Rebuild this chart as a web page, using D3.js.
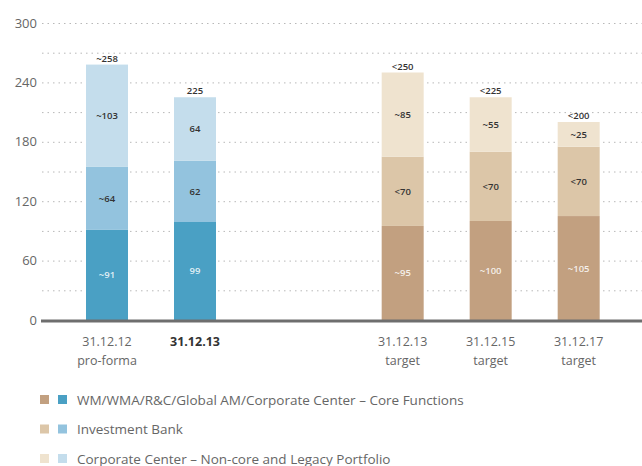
<!DOCTYPE html>
<html><head><meta charset="utf-8">
<script src="https://cdn.jsdelivr.net/npm/d3@7"></script>
<style>
body{margin:0;background:#fff;}
svg{display:block;}
text{font-family:"Open Sans","Noto Sans",sans-serif;}
</style></head>
<body>
<svg id="chart" width="642" height="466"></svg>
<script>
// ---- data ----
const categories = ["31.12.12|pro-forma", "31.12.13", "31.12.13|target", "31.12.15|target", "31.12.17|target"];
const boldCategory = [false, true, false, false, false];
const isTarget = [false, false, true, true, true];
const coreValues = [91, 99, 95, 100, 105];
const ibValues = [64, 62, 70, 70, 70];
const legacyValues = [103, 64, 85, 55, 25];
const coreLabels = ["~91", "99", "~95", "~100", "~105"];
const ibLabels = ["~64", "62", "<70", "<70", "<70"];
const legacyLabels = ["~103", "64", "~85", "~55", "~25"];
const totalLabels = ["~258", "225", "<250", "<225", "<200"];
const yTicks = [0, 60, 120, 180, 240, 300];
const gridValues = [30, 60, 90, 120, 150, 180, 210, 240, 270, 300];
const legendItems = [
  "WM/WMA/R&C/Global AM/Corporate Center \u2013 Core Functions",
  "Investment Bank",
  "Corporate Center \u2013 Non-core and Legacy Portfolio"
];

// ---- styles ----
const blue = ["#4aa0c4", "#93c3de", "#c4ddec"];
const brown = ["#c2a080", "#dcc6a8", "#efe3cf"];

const svg = d3.select("#chart");
const y = d3.scaleLinear().domain([0, 300]).range([320, 23]);
// slot positions: left group at 0,1; right group after a gap
const slot = i => i < 2 ? i : i + 1.36;
const x = d3.scaleLinear().domain([0, 1]).range([107, 195]);
const barW = 42;

// gridlines (dotted)
svg.append("g").selectAll("line").data(gridValues).join("line")
  .attr("x1", 42).attr("x2", 642)
  .attr("y1", d => y(d) + 0.5).attr("y2", d => y(d) + 0.5)
  .attr("stroke", "#b8b8b8").attr("stroke-width", 1)
  .attr("stroke-dasharray", "1.5,4");

// y axis labels
const yAxis = d3.axisLeft(y).tickValues(yTicks).tickSize(0).tickPadding(0);
const yg = svg.append("g").attr("transform", "translate(37,0)").call(yAxis);
yg.select(".domain").remove();
yg.selectAll("text").attr("font-size", 13).attr("fill", "#666")
  .attr("font-family", '"Open Sans","Noto Sans",sans-serif');

// stacked bars
const rows = categories.map((c, i) => ({
  i, core: coreValues[i], ib: ibValues[i], legacy: legacyValues[i]
}));
const stack = d3.stack().keys(["core", "ib", "legacy"])(rows);
const labelSets = [coreLabels, ibLabels, legacyLabels];

stack.forEach((layer, k) => {
  const g = svg.append("g");
  g.selectAll("rect").data(layer).join("rect")
    .attr("x", d => x(slot(d.data.i)) - barW / 2)
    .attr("width", barW)
    .attr("y", d => y(d[1]))
    .attr("height", d => y(d[0]) - y(d[1]))
    .attr("fill", d => (isTarget[d.data.i] ? brown : blue)[k]);
  g.selectAll("text").data(layer).join("text")
    .attr("x", d => x(slot(d.data.i)))
    .attr("y", d => (y(d[0]) + y(d[1])) / 2 + 3.5)
    .attr("text-anchor", "middle")
    .attr("font-size", 9.5).attr("font-weight", 600)
    .attr("fill", k === 0 ? "#fff" : "#333")
    .attr("fill-opacity", k === 0 ? 0.85 : 1)
    .text(d => labelSets[k][d.data.i]);
});

// totals
svg.append("g").selectAll("text").data(rows).join("text")
  .attr("x", d => x(slot(d.i)))
  .attr("y", d => y(d.core + d.ib + d.legacy) - 3)
  .attr("text-anchor", "middle")
  .attr("font-size", 9.5).attr("font-weight", 600).attr("fill", "#333")
  .text(d => totalLabels[d.i]);

// baseline
svg.append("line").attr("x1", 41).attr("x2", 642)
  .attr("y1", y(0) + 1).attr("y2", y(0) + 1)
  .attr("stroke", "#6e6e6e").attr("stroke-width", 3);

// x labels
const xl = svg.append("g").selectAll("text").data(categories).join("text")
  .attr("x", (d, i) => x(slot(i)))
  .attr("y", 346)
  .attr("text-anchor", "middle")
  .attr("font-size", 12.5)
  .attr("fill", (d, i) => boldCategory[i] ? "#333" : "#666")
  .attr("font-weight", (d, i) => boldCategory[i] ? "bold" : "normal");
xl.each(function(d) {
  const parts = d.split("|");
  const t = d3.select(this);
  parts.forEach((p, j) => {
    t.append("tspan").attr("x", t.attr("x")).attr("dy", j === 0 ? 0 : 19).text(p);
  });
});

// legend
const lg = svg.append("g").selectAll("g").data(legendItems).join("g")
  .attr("transform", (d, i) => `translate(40,${395 + i * 29.5})`);
lg.append("rect").attr("width", 9).attr("height", 9).attr("fill", (d, i) => brown[i]);
lg.append("rect").attr("x", 18).attr("width", 9).attr("height", 9).attr("fill", (d, i) => blue[i]);
lg.append("text").attr("x", 37).attr("y", 9.5).attr("font-size", 13.5).attr("fill", "#666")
  .text(d => d);
</script>
</body></html>
